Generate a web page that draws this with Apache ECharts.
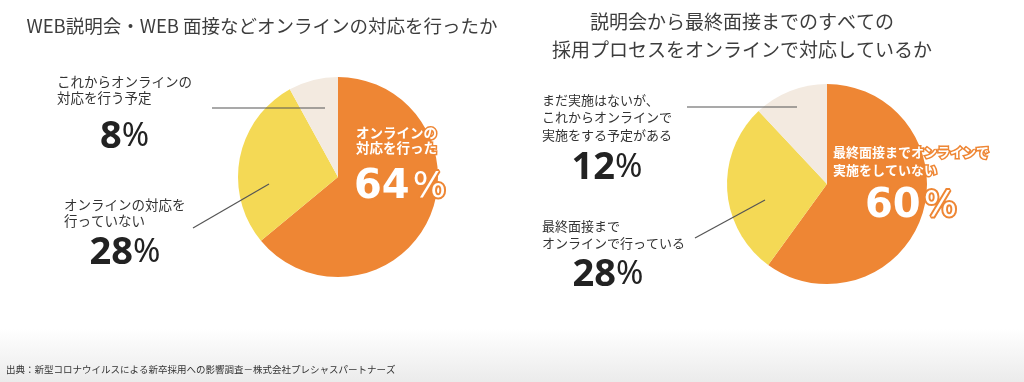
<!DOCTYPE html>
<html><head><meta charset="utf-8">
<script src="https://cdn.jsdelivr.net/npm/echarts@6/dist/echarts.min.js"></script>
<style>html,body{margin:0;padding:0;background:#fff}#c{width:1024px;height:382px}</style>
</head><body><div id="c"></div>
<script>
// ---- data ----
const leftTitle = 'WEB説明会・WEB 面接などオンラインの対応を行ったか';
const rightTitle = ['説明会から最終面接までのすべての', '採用プロセスをオンラインで対応しているか'];
const sourceNote = '出典：新型コロナウイルスによる新卒採用への影響調査－株式会社プレシャスパートナーズ';
const leftNames = ['オンラインの\n対応を行った', 'オンラインの対応を\n行っていない', 'これからオンラインの\n対応を行う予定'];
const leftValues = [64, 28, 8];
const rightNames = ['最終面接までオンラインで\n実施をしていない', '最終面接まで\nオンラインで行っている', 'まだ実施はないが、\nこれからオンラインで\n実施をする予定がある'];
const rightValues = [60, 28, 12];

// ---- styles ----
const colors = ['#EE8634', '#F4D955', '#F3EAE0'];
const JP = '"Noto Sans CJK JP", "Noto Sans", sans-serif';

function richFor(inside, fs, lh, nlh) {
  if (inside) {
    return {
      t: {fontFamily: JP, fontSize: fs, fontWeight: 'bold', color: '#fff', textBorderColor: '#EE8634', textBorderWidth: 3, lineHeight: lh, align: 'left'},
      n: {fontFamily: '"DejaVu Sans", sans-serif', fontSize: 40, fontWeight: 'bold', color: '#fff', textBorderColor: '#EE8634', textBorderWidth: 4, lineHeight: nlh, align: 'center'},
      p: {fontFamily: '"DejaVu Sans", sans-serif', fontSize: 35, fontWeight: 'normal', color: '#fff', textBorderColor: '#EE8634', textBorderWidth: 4, lineHeight: nlh, align: 'center', padding: [0, 0, 0, 3]}
    };
  }
  return {
    t: {fontFamily: JP, fontSize: fs, color: '#333', lineHeight: lh, align: 'left'},
    n: {fontFamily: '"Noto Sans", sans-serif', fontSize: 38, fontWeight: 'bold', color: '#222', lineHeight: nlh, align: 'center'},
    p: {fontFamily: '"Noto Sans", sans-serif', fontSize: 33, fontWeight: 'normal', color: '#222', lineHeight: nlh, align: 'center'}
  };
}

// label boxes: [x, y(top), width, fontSize, lineHeight, numberLineHeight]
const boxes = [
  [[356, 125.5, 88, 13.5, 15, 65], [64, 197, 122, 13.5, 16, 48], [57, 74, 135, 13.5, 16, 62]],
  [[833, 143, 156, 13, 18, 56], [542, 217.5, 132, 13, 17, 47], [542, 91, 130, 13, 17.5, 49]]
];
// leader lines (annotation positions)
const guides = [
  [[193, 228], [269, 184]], [[212, 108], [325, 108]],
  [[695, 238], [765, 200]], [[687, 107], [797, 107]]
];

function buildData(si, names, values) {
  return values.map((v, i) => {
    const b = boxes[si][i];
    const inside = i === 0;
    return {
      name: names[i], value: v,
      itemStyle: {color: colors[i]},
      label: {position: inside ? 'inside' : 'outside', width: b[2], overflow: 'none', rich: richFor(inside, b[3], b[4], b[5])},
      labelLine: {show: false}
    };
  });
}

function fmt(p) {
  return p.name.split('\n').map(s => '{t|' + s + '}').join('\n') + '\n{n|' + p.value + '}{p|%}';
}

function layoutFn(si) {
  return function (params) {
    const b = boxes[si][params.dataIndex];
    return {x: b[0], y: b[1], align: 'left', verticalAlign: 'top'};
  };
}

function pieSeries(si, center, names, values) {
  return {
    type: 'pie', center: center, radius: [0, 100], startAngle: 90, clockwise: true,
    animation: false, silent: true, avoidLabelOverlap: false,
    label: {show: true, formatter: fmt},
    labelLine: {show: false},
    emphasis: {disabled: true},
    labelLayout: layoutFn(si),
    data: buildData(si, names, values)
  };
}

const chart = echarts.init(document.getElementById('c'), null, {renderer: 'canvas'});
chart.setOption({
  backgroundColor: {type: 'linear', x: 0, y: 0, x2: 0, y2: 1, colorStops: [
    {offset: 0, color: '#ffffff'}, {offset: 0.86, color: '#ffffff'}, {offset: 1, color: '#ebebeb'}]},
  title: [
    {text: leftTitle, left: 262, textAlign: 'center', top: 16, padding: 0,
     textStyle: {fontFamily: JP, fontSize: 18.5, fontWeight: 'normal', color: '#3d3d3d', lineHeight: 20}},
    {text: rightTitle.join('\n'), left: 742, textAlign: 'center', top: 8, padding: 0,
     textStyle: {fontFamily: JP, fontSize: 19, fontWeight: 'normal', color: '#3d3d3d', lineHeight: 28}},
    {text: sourceNote, left: 6, top: 362, padding: 0,
     textStyle: {fontFamily: JP, fontSize: 9.5, fontWeight: 'normal', color: '#333', lineHeight: 14}}
  ],
  graphic: guides.map(g => ({
    type: 'line', z: 100, silent: true,
    shape: {x1: g[0][0], y1: g[0][1], x2: g[1][0], y2: g[1][1]},
    style: {stroke: '#555', lineWidth: 1.2}
  })),
  series: [
    pieSeries(0, [338, 177], leftNames, leftValues),
    pieSeries(1, [827, 184], rightNames, rightValues)
  ]
});
</script>
</body></html>
